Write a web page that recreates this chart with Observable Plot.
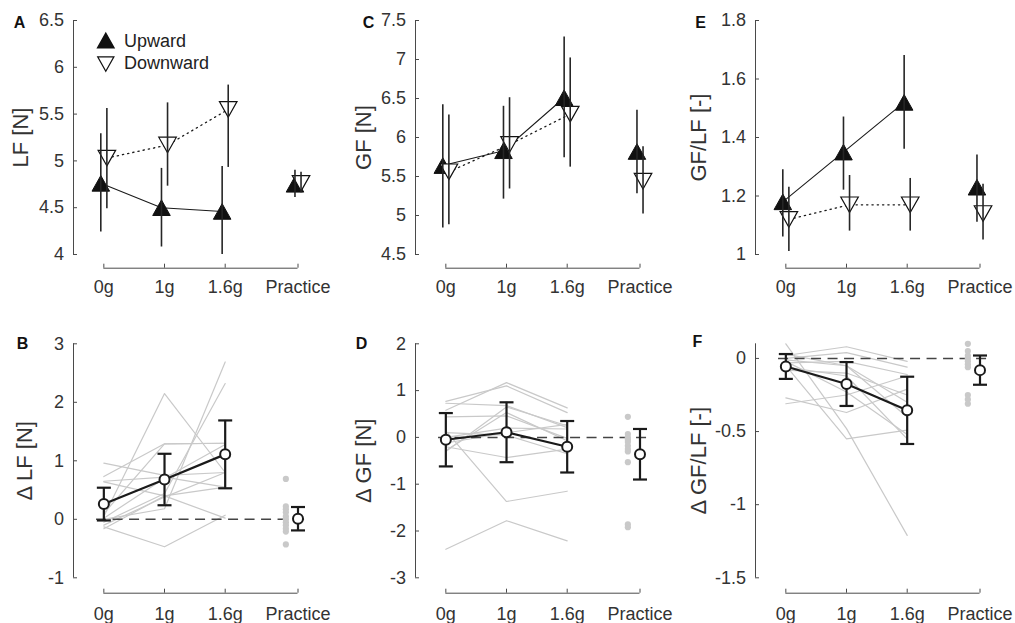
<!DOCTYPE html>
<html><head><meta charset="utf-8">
<script src="https://cdn.jsdelivr.net/npm/d3@7"></script>
<script src="https://cdn.jsdelivr.net/npm/@observablehq/plot@0.6"></script>
<style>
html,body{margin:0;padding:0;background:#fff;overflow:hidden;}
#fig{position:relative;width:1015px;height:623px;overflow:hidden;}
#fig svg{position:absolute;overflow:visible;}
</style></head><body><div id="fig"></div>
<script>
// ---------- categories ----------
const conditions = ["0g", "1g", "1.6g", "Practice"];
const conditionX = [1, 2, 3, 4.2];
const directions = ["Upward", "Downward"];
const directionOffset = [-0.05, 0.05];
const practiceDotX = 4.0;
const zeroLineX = [0.88, 4.4];

// ---------- Panel A: LF [N] ----------
const lfUpMean = [4.76, 4.50, 4.46, 4.75];
const lfUpLow = [4.24, 4.08, 4.00, 4.61];
const lfUpHigh = [5.29, 4.92, 4.94, 4.90];
const lfDownMean = [5.03, 5.17, 5.55, 4.76];
const lfDownLow = [4.49, 4.73, 4.93, 4.66];
const lfDownHigh = [5.56, 5.62, 5.81, 4.88];
const lfTicks = [4, 4.5, 5, 5.5, 6, 6.5];

// ---------- Panel C: GF [N] ----------
const gfUpMean = [5.64, 5.83, 6.51, 5.82];
const gfUpLow = [4.84, 5.21, 5.74, 5.28];
const gfUpHigh = [6.42, 6.40, 7.29, 6.35];
const gfDownMean = [5.56, 5.91, 6.30, 5.44];
const gfDownLow = [4.88, 5.34, 5.62, 5.02];
const gfDownHigh = [6.29, 6.51, 7.02, 5.88];
const gfTicks = [4.5, 5, 5.5, 6, 6.5, 7, 7.5];

// ---------- Panel E: GF/LF [-] ----------
const ratioUpMean = [1.18, 1.35, 1.52, 1.23];
const ratioUpLow = [1.06, 1.22, 1.36, 1.11];
const ratioUpHigh = [1.29, 1.47, 1.68, 1.34];
const ratioDownMean = [1.12, 1.17, 1.17, 1.14];
const ratioDownLow = [1.01, 1.08, 1.08, 1.05];
const ratioDownHigh = [1.23, 1.27, 1.26, 1.24];
const ratioTicks = [1, 1.2, 1.4, 1.6, 1.8];

// ---------- Panel B: Δ LF [N] ----------
const dLfMean = [0.26, 0.68, 1.11, 0.01];
const dLfErr = [0.28, 0.44, 0.58, 0.20];
const dLfSubjects = [
  [0.96, 0.75, 0.80], [0.73, 1.29, 1.30], [0.65, 0.72, 0.55], [0.64, 0.40, 0.02],
  [0.05, 2.15, 0.80], [0.00, 0.18, 2.69], [-0.05, 0.44, 2.32], [-0.13, -0.47, 0.07],
  [-0.16, 0.40, 0.55], [0.10, 1.29, 1.30], [0.02, 0.70, 1.28], [-0.10, 0.38, 0.80]
];
const dLfPractice = [0.69, 0.22, 0.17, 0.12, 0.05, 0.00, -0.05, -0.10, -0.16, -0.21, -0.43];
const dLfTicks = [-1, 0, 1, 2, 3];

// ---------- Panel D: Δ GF [N] ----------
const dGfMean = [-0.05, 0.11, -0.20, -0.36];
const dGfErr = [0.57, 0.64, 0.55, 0.54];
const dGfSubjects = [
  [-2.39, -1.78, -2.21], [0.14, -1.37, -1.15], [0.58, 1.17, 0.63], [0.77, 1.10, 0.53],
  [0.73, 0.68, 0.21], [0.44, 0.46, -0.02], [-0.28, 0.53, -0.07], [-0.20, -0.43, -0.25],
  [-0.12, 0.10, 0.28], [0.00, 0.20, 0.18], [-0.30, 0.65, 0.25], [0.10, 0.05, -0.35]
];
const dGfPractice = [0.44, 0.07, 0.00, -0.05, -0.10, -0.18, -0.25, -0.30, -0.53, -1.86, -1.92];
const dGfTicks = [-3, -2, -1, 0, 1, 2];

// ---------- Panel F: Δ GF/LF [-] ----------
const dRatioMean = [-0.055, -0.175, -0.355, -0.08];
const dRatioErr = [0.085, 0.15, 0.23, 0.10];
const dRatioSubjects = [
  [0.10, -0.48, -1.21], [-0.05, -0.55, -0.49], [0.02, 0.08, -0.02], [0.00, 0.04, -0.06],
  [-0.03, -0.02, -0.11], [-0.06, -0.12, -0.55], [-0.27, -0.37, -0.21], [-0.31, -0.25, -0.12],
  [-0.02, -0.23, -0.52], [-0.08, -0.10, -0.25], [0.03, -0.05, -0.40], [-0.01, -0.05, -0.30]
];
const dRatioPractice = [0.10, 0.05, 0.02, 0.00, -0.02, -0.04, -0.06, -0.25, -0.28, -0.31];
const dRatioTicks = [-1.5, -1, -0.5, 0];

// ---------- styling / layout ----------
const FONT = "'Liberation Sans', Arial, Helvetica, sans-serif";
const AXIS = "#4a4a4a";
const TEXT = "#333";
const GRAY = "#c9c9c9";
const INK = "#1a1a1a";
const colAxisX = [73, 415, 755];
const ML = 73, PW = 224.5, MR = 40;
const xDomain = [0.5, 4.2];

const halfTri = r => [r * 1.35, r * 1.2];
const triUp = {draw(ctx, size) { const r = Math.sqrt(size / Math.PI); const [w, h] = halfTri(r);
  ctx.moveTo(0, -h); ctx.lineTo(w, h); ctx.lineTo(-w, h); ctx.closePath(); }};
const triDown = {draw(ctx, size) { const r = Math.sqrt(size / Math.PI); const [w, h] = halfTri(r);
  ctx.moveTo(0, h); ctx.lineTo(w, -h); ctx.lineTo(-w, -h); ctx.closePath(); }};
const capSymbol = {draw(ctx, size) { const r = Math.sqrt(size / Math.PI);
  ctx.moveTo(-r, 0); ctx.lineTo(r, 0); }};

const fmt = d => String(d);
const condLabel = d => conditions[conditionX.indexOf(d)];

function rows(mean, low, high, dir) {
  return conditions.map((c, i) => ({cond: c, dir: directions[dir], x: conditionX[i] + directionOffset[dir],
    mean: mean[i], low: low[i], high: high[i]}));
}

function place(svg, left, top) {
  svg.style.left = left + "px"; svg.style.top = top + "px";
  document.getElementById("fig").appendChild(svg);
}

function axesMarks(ticks, yTop, ymin, fontSize, tickPad) {
  return [
    Plot.ruleX([xDomain[0]], {y1: ticks[0], y2: yTop, stroke: AXIS, strokeWidth: 1}),
    Plot.ruleY([ymin], {x1: conditionX[0], x2: conditionX[conditionX.length - 1], stroke: AXIS, strokeWidth: 1}),
    Plot.axisY({ticks, tickFormat: fmt, tickSize: -4, tickPadding: 13.5, fontSize, color: TEXT, label: null, stroke: AXIS}),
    Plot.axisX({ticks: conditionX, tickFormat: condLabel, tickSize: -4, tickPadding: tickPad, fontSize, color: TEXT, label: null, stroke: AXIS})
  ];
}

function textMarks(letter, letterDx, letterDy, label, labelDx, labelDy) {
  return [
    Plot.text([label], {text: d => d, frameAnchor: "left", dx: -labelDx, dy: labelDy, rotate: -90,
      textAnchor: "middle", lineAnchor: "middle", fontSize: 22, fill: TEXT}),
    Plot.text([letter], {text: d => d, frameAnchor: "top-left", dx: letterDx, dy: letterDy,
      textAnchor: "middle", lineAnchor: "middle", fontSize: 16, fontWeight: "bold", fill: "#111"})
  ];
}

function topPanel(col, o) {
  const H = 310, MT = 20, frameBottom = 267.7;
  const axisLen = 254 - MT;
  const yTop = o.ticks[o.ticks.length - 1], yBot = o.ticks[0];
  const ymin = yBot - (frameBottom - 254) * (yTop - yBot) / axisLen;
  const up = rows(o.upMean, o.upLow, o.upHigh, 0);
  const down = rows(o.downMean, o.downLow, o.downHigh, 1);
  const marks = [
    ...axesMarks(o.ticks, yTop, ymin, 18, 16),
    Plot.line(up.slice(0, 3), {x: "x", y: "mean", stroke: INK, strokeWidth: 1.1}),
    Plot.line(down.slice(0, 3), {x: "x", y: "mean", stroke: INK, strokeWidth: 1.3, strokeDasharray: "1.3,4"}),
    Plot.dot(up, {x: "x", y: "mean", symbol: triUp, r: 6.5, fill: "#111", stroke: "#111", strokeWidth: 1}),
    Plot.dot(down, {x: "x", y: "mean", symbol: triDown, r: 6.5, fill: "white", stroke: "#111", strokeWidth: 1.2}),
    Plot.ruleX(up, {x: "x", y1: "low", y2: "high", stroke: "#262626", strokeWidth: 1.6}),
    Plot.ruleX(down, {x: "x", y1: "low", y2: "high", stroke: "#262626", strokeWidth: 1.6}),
    ...textMarks(o.letter, o.letterDx, o.letterDy, o.label, o.labelDx, -6.8)
  ];
  if (o.legend) {
    marks.push(
      Plot.dot([directions[0]], {frameAnchor: "top-left", dx: 32.3, dy: 20, symbol: triUp, r: 6, fill: "#111", stroke: "#111"}),
      Plot.dot([directions[1]], {frameAnchor: "top-left", dx: 32.3, dy: 43.5, symbol: triDown, r: 6, fill: "white", stroke: "#111", strokeWidth: 1.2}),
      Plot.text([directions[0]], {text: d => d, frameAnchor: "top-left", dx: 50.5, dy: 20.5,
        textAnchor: "start", lineAnchor: "middle", fontSize: 18, fill: "#222"}),
      Plot.text([directions[1]], {text: d => d, frameAnchor: "top-left", dx: 50.5, dy: 43,
        textAnchor: "start", lineAnchor: "middle", fontSize: 18, fill: "#222"})
    );
  }
  const svg = Plot.plot({
    width: ML + PW + MR, height: H, marginLeft: ML, marginRight: MR, marginTop: MT, marginBottom: H - frameBottom,
    x: {domain: xDomain, axis: null}, y: {domain: [ymin, yTop], axis: null},
    style: {background: "transparent", fontFamily: FONT, overflow: "visible"},
    marks
  });
  place(svg, colAxisX[col] - ML, 0);
}

function bottomPanel(col, o) {
  const top = 320, H = 303, MT = 23.3, frameBottom = 272.7;
  const axisLen = (577.3 - top) - MT;
  const yBot = o.ticks[0];
  const yTop = o.axisTop;
  const ymin = yBot - (frameBottom - (577.3 - top)) * (yTop - yBot) / axisLen;
  const meanRows = conditions.map((c, i) => ({cond: c, x: conditionX[i], mean: o.mean[i], err: o.err[i]}));
  const subj = o.subjects.flatMap((s, k) => s.map((v, i) => ({subject: k, x: conditionX[i], y: v})));
  const marks = [
    ...axesMarks(o.ticks, yTop, ymin, 18, 18),
    Plot.line(subj, {x: "x", y: "y", z: "subject", stroke: GRAY, strokeWidth: 1.2}),
    Plot.ruleY([0], {x1: zeroLineX[0], x2: zeroLineX[1], stroke: "#444", strokeWidth: 1.5, strokeDasharray: "10,6.5"}),
    Plot.dot(o.practice, {x: () => practiceDotX, y: d => d, r: 3.1, fill: GRAY, stroke: "none"}),
    Plot.line(meanRows.slice(0, 3), {x: "x", y: "mean", stroke: INK, strokeWidth: 2.2}),
    Plot.ruleX(meanRows, {x: "x", y1: d => d.mean - d.err, y2: d => d.mean + d.err, stroke: INK, strokeWidth: 2.2}),
    Plot.dot(meanRows, {x: "x", y: d => d.mean - d.err, symbol: capSymbol, r: 7, fill: "none", stroke: INK, strokeWidth: 2.2}),
    Plot.dot(meanRows, {x: "x", y: d => d.mean + d.err, symbol: capSymbol, r: 7, fill: "none", stroke: INK, strokeWidth: 2.2}),
    Plot.dot(meanRows, {x: "x", y: "mean", r: 5, fill: "white", stroke: INK, strokeWidth: 2}),
    ...textMarks(o.letter, o.letterDx, o.letterDy, o.label, o.labelDx, -7.7)
  ];
  const svg = Plot.plot({
    width: ML + PW + MR, height: H, marginLeft: ML, marginRight: MR, marginTop: MT, marginBottom: H - frameBottom,
    x: {domain: xDomain, axis: null}, y: {domain: [ymin, yTop], axis: null},
    style: {background: "transparent", fontFamily: FONT, overflow: "visible"},
    marks
  });
  place(svg, colAxisX[col] - ML, top);
}

topPanel(0, {letter: "A", letterDx: -54, letterDy: 2, label: "LF [N]", labelDx: 53, ticks: lfTicks,
  upMean: lfUpMean, upLow: lfUpLow, upHigh: lfUpHigh, downMean: lfDownMean, downLow: lfDownLow, downHigh: lfDownHigh, legend: true});
topPanel(1, {letter: "C", letterDx: -47, letterDy: 2.5, label: "GF [N]", labelDx: 51.5, ticks: gfTicks,
  upMean: gfUpMean, upLow: gfUpLow, upHigh: gfUpHigh, downMean: gfDownMean, downLow: gfDownLow, downHigh: gfDownHigh});
topPanel(2, {letter: "E", letterDx: -55, letterDy: 2, label: "GF/LF [-]", labelDx: 56.5, ticks: ratioTicks,
  upMean: ratioUpMean, upLow: ratioUpLow, upHigh: ratioUpHigh, downMean: ratioDownMean, downLow: ratioDownLow, downHigh: ratioDownHigh});

bottomPanel(0, {letter: "B", letterDx: -51, letterDy: -0.3, label: "Δ LF [N]", labelDx: 49, ticks: dLfTicks, axisTop: 3,
  mean: dLfMean, err: dLfErr, subjects: dLfSubjects, practice: dLfPractice});
bottomPanel(1, {letter: "D", letterDx: -54, letterDy: -0.3, label: "Δ GF [N]", labelDx: 51.5, ticks: dGfTicks, axisTop: 2,
  mean: dGfMean, err: dGfErr, subjects: dGfSubjects, practice: dGfPractice});
bottomPanel(2, {letter: "F", letterDx: -58, letterDy: -2.3, label: "Δ GF/LF [-]", labelDx: 57, ticks: dRatioTicks, axisTop: 0.1,
  mean: dRatioMean, err: dRatioErr, subjects: dRatioSubjects, practice: dRatioPractice});
</script></body></html>
